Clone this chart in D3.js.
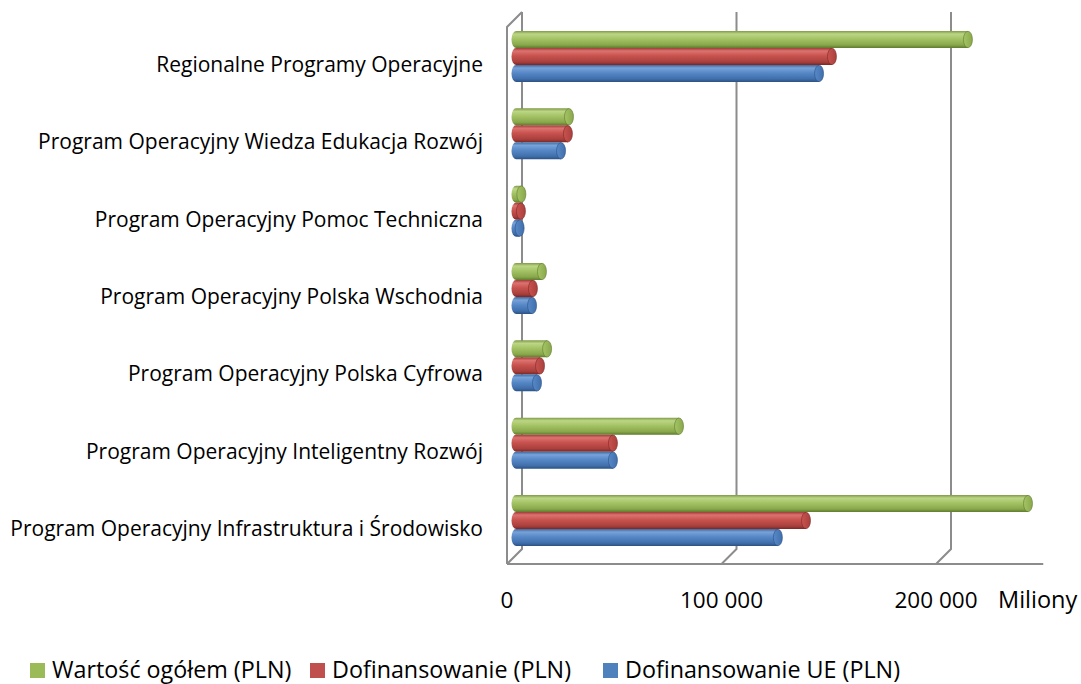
<!DOCTYPE html>
<html>
<head>
<meta charset="utf-8">
<script src="https://cdn.jsdelivr.net/npm/d3@7"></script>
<style>
  body { margin: 0; background: #fff; }
  svg text { font-family: "Open Sans", "Noto Sans", sans-serif; fill: #000; }
</style>
</head>
<body>
<div id="chart"></div>
<script>
const categories = [
  'Regionalne Programy Operacyjne',
  'Program Operacyjny Wiedza Edukacja Rozwój',
  'Program Operacyjny Pomoc Techniczna',
  'Program Operacyjny Polska Wschodnia',
  'Program Operacyjny Polska Cyfrowa',
  'Program Operacyjny Inteligentny Rozwój',
  'Program Operacyjny Infrastruktura i Środowisko'
];
const seriesNames = ['Wartość ogółem (PLN)', 'Dofinansowanie (PLN)', 'Dofinansowanie UE (PLN)'];
// values in millions PLN
const wartoscOgolem = [210700, 24700, 2500, 12100, 14500, 76000, 238700];
const dofinansowanie = [147300, 24200, 2300, 7900, 11200, 45200, 135200];
const dofinansowanieUE = [141300, 21000, 1700, 7500, 9800, 45200, 122100];
const tickValues = [0, 100000, 200000];
const gridValues = [100000, 200000];

const width = 1081, height = 684;
const depth = { dx: 15, dy: -15 };

const svg = d3.select('#chart').append('svg')
  .attr('width', width).attr('height', height);

// back wall scale (value -> x on the back plane)
const xBack = d3.scaleLinear().domain([0, 250000]).range([522, 522 + 536.25]);
// bars sit in the middle of the depth
const xBar = d3.scaleLinear().domain([0, 250000]).range([516, 516 + 536.25]);
const y = d3.scaleBand().domain(categories).range([17.8, 559.2]);
const ySeries = d3.scaleBand().domain(seriesNames).range([0, 51]);

const floorY = 564, topY = 12;
const grid = svg.append('g').style('stroke', '#8c8c8c').style('stroke-width', 2).style('fill', 'none');

// left wall
grid.append('path').attr('d', `M${xBack(0) - depth.dx},${floorY} V${topY - depth.dy} L${xBack(0)},${topY}`);
grid.append('path').attr('d', `M${xBack(0)},${topY} V${floorY + depth.dy} L${xBack(0) - depth.dx},${floorY}`);
// gridlines on back wall + floor
gridValues.forEach((v) => {
  grid.append('path').attr('d', `M${xBack(v)},${topY} V${floorY + depth.dy} L${xBack(v) - depth.dx},${floorY}`);
});
// floor front edge
grid.append('path').attr('d', `M${xBack(0) - depth.dx},${floorY} H${xBack(250000) - depth.dx}`);

// tick labels
svg.append('g').selectAll('text').data(tickValues).enter().append('text')
  .attr('x', (d) => xBack(d) - depth.dx)
  .attr('y', 608)
  .attr('text-anchor', 'middle')
  .attr('font-size', '22.5px')
  .text((d) => d3.format(',')(d).replace(/,/g, ' '));
svg.append('text').attr('x', 998).attr('y', 608).attr('font-size', '23.5px').text('Miliony');

// category labels
svg.append('g').selectAll('text').data(categories).enter().append('text')
  .attr('x', 483)
  .attr('y', (d) => y(d) + y.bandwidth() / 2 + 8)
  .attr('dy', '0.35em')
  .attr('text-anchor', 'end')
  .attr('font-size', '21px')
  .text((d) => d);

// gradients for cylinders
const colors = [
  { base: '#9bbb59', stops: ['#7f9a48', '#bcd685', '#a5c466', '#88a84b', '#5f7a2e'] },
  { base: '#c0504d', stops: ['#a03c39', '#dc7370', '#c9534f', '#a9403d', '#7a2826'] },
  { base: '#4f81bd', stops: ['#3d6aa0', '#78a2d8', '#5889c8', '#406fab', '#2b5184'] }
];
const defs = svg.append('defs');
colors.forEach((c, i) => {
  const g = defs.append('linearGradient').attr('id', 'cyl' + i)
    .attr('x1', 0).attr('y1', 0).attr('x2', 0).attr('y2', 1);
  [0, 0.18, 0.45, 0.82, 1].forEach((o, k) => {
    g.append('stop').attr('offset', o).attr('stop-color', c.stops[k]);
  });
  const gc = defs.append('linearGradient').attr('id', 'cap' + i)
    .attr('x1', 0).attr('y1', 0).attr('x2', 1).attr('y2', 0);
  gc.append('stop').attr('offset', 0).attr('stop-color', c.stops[2]);
  gc.append('stop').attr('offset', 1).attr('stop-color', c.stops[3]);
});

const seriesData = [wartoscOgolem, dofinansowanie, dofinansowanieUE];
const bars = svg.append('g');
categories.forEach((cat, ci) => {
  seriesNames.forEach((s, si) => {
    const v = seriesData[si][ci];
    const h = ySeries.bandwidth();
    const yt = y(cat) + y.bandwidth() / 2 - 25.5 + ySeries(s);
    const x0 = xBar(0), x1 = xBar(v);
    const rx = 4.5, ry = h / 2;
    const g = bars.append('g');
    g.append('path')
      .attr('d', `M${x0},${yt} H${x1} V${yt + h} H${x0} A${rx},${ry} 0 0 1 ${x0},${yt} Z`)
      .style('fill', `url(#cyl${si})`);
    g.append('ellipse')
      .attr('cx', x1).attr('cy', yt + ry).attr('rx', rx).attr('ry', ry - 0.3)
      .style('fill', `url(#cap${si})`)
      .style('stroke', colors[si].stops[4]).style('stroke-width', 0.6);
  });
});

// legend
const legendX = [30, 310, 603];
const legend = svg.append('g').selectAll('g').data(seriesNames).enter().append('g')
  .attr('transform', (d, i) => `translate(${legendX[i]},663)`);
legend.append('rect').attr('width', 15).attr('height', 15).style('fill', (d, i) => colors[i].base);
legend.append('text').attr('x', 22).attr('y', 15).attr('font-size', '23.3px').text((d) => d);
</script>
</body>
</html>
